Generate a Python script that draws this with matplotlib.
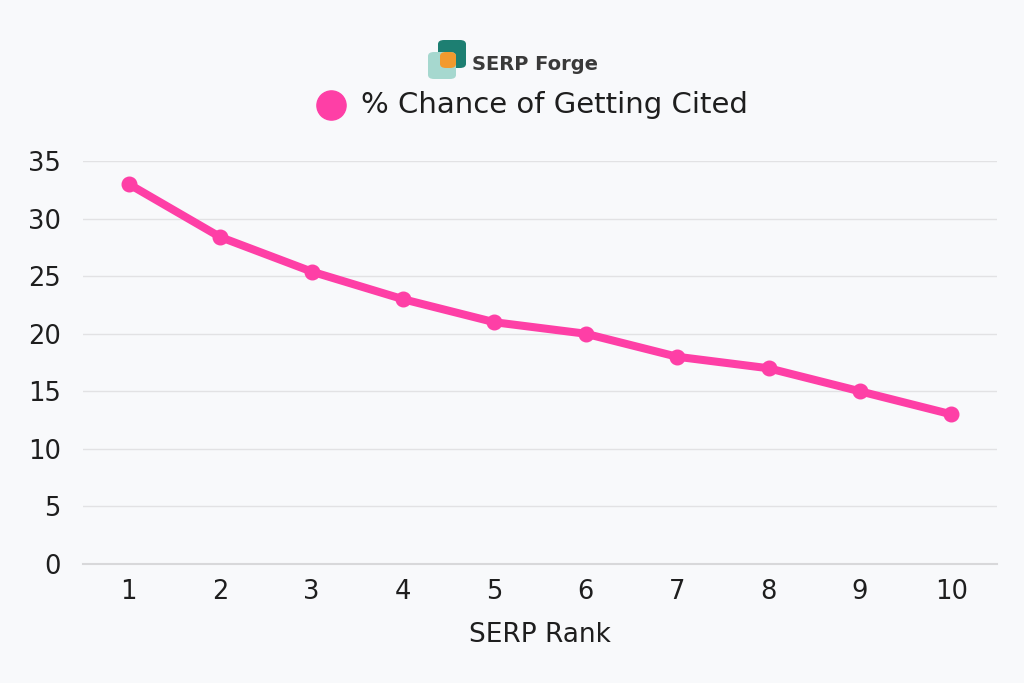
import matplotlib.pyplot as plt
from matplotlib.patches import FancyBboxPatch
from matplotlib.lines import Line2D

ranks = [1, 2, 3, 4, 5, 6, 7, 8, 9, 10]
chance = [33, 28.4, 25.4, 23, 21, 20, 18, 17, 15, 13]
y_ticks = [0, 5, 10, 15, 20, 25, 30, 35]

BG = "#f8f9fb"
PINK = "#fe3fa6"
TXT = "#1e1e1e"

plt.rcParams['font.family'] = ['DejaVu Sans']

fig = plt.figure(figsize=(10.24, 6.83), dpi=100, facecolor=BG)
ax = fig.add_axes([83/1024, 1-564/683, 914/1024, 403/683])
ax.set_facecolor(BG)

ax.plot(ranks, chance, color=PINK, lw=5.8, marker='o', ms=10.5,
        solid_capstyle='round', zorder=3)

ax.set_xlim(0.5, 10.5)
ax.set_ylim(0, 35)
ax.set_xticks(ranks)
ax.set_yticks(y_ticks)
ax.tick_params(length=0, labelsize=18.5, colors=TXT)
ax.tick_params(axis='x', pad=11)
ax.tick_params(axis='y', pad=16)
ax.grid(axis='y', color="#e2e2e4", lw=1)
ax.axhline(0, color="#d8d8da", lw=1.5, clip_on=False, zorder=1)
ax.set_axisbelow(True)
for s in ax.spines.values():
    s.set_visible(False)
ax.set_xlabel("SERP Rank", fontsize=19, color=TXT, labelpad=12)

# legend
fig.add_artist(Line2D([331/1024], [1-105/683], marker='o', ms=21, color=PINK,
                      transform=fig.transFigure))
fig.text(361/1024, 1-105/683, "% Chance of Getting Cited", fontsize=21,
         color=TXT, ha='left', va='center')

# logo
def rbox(x0, y0, x1, y1, color):
    w, h = (x1-x0)/1024, (y1-y0)/683
    fig.add_artist(FancyBboxPatch((x0/1024, 1-y1/683), w, h,
                                  boxstyle="round,pad=0,rounding_size=0.006",
                                  transform=fig.transFigure, facecolor=color,
                                  edgecolor='none'))

rbox(438, 40, 466, 68, "#1d7f72")
rbox(428, 52, 456, 79, "#a6d8cf")
rbox(440, 52, 456, 68, "#f29a2e")
fig.text(472/1024, 1-64/683, "SERP Forge", fontsize=14, fontweight='bold',
         color="#3a3a3a", ha='left', va='center')

fig.savefig("out.png", dpi=100, facecolor=BG)
